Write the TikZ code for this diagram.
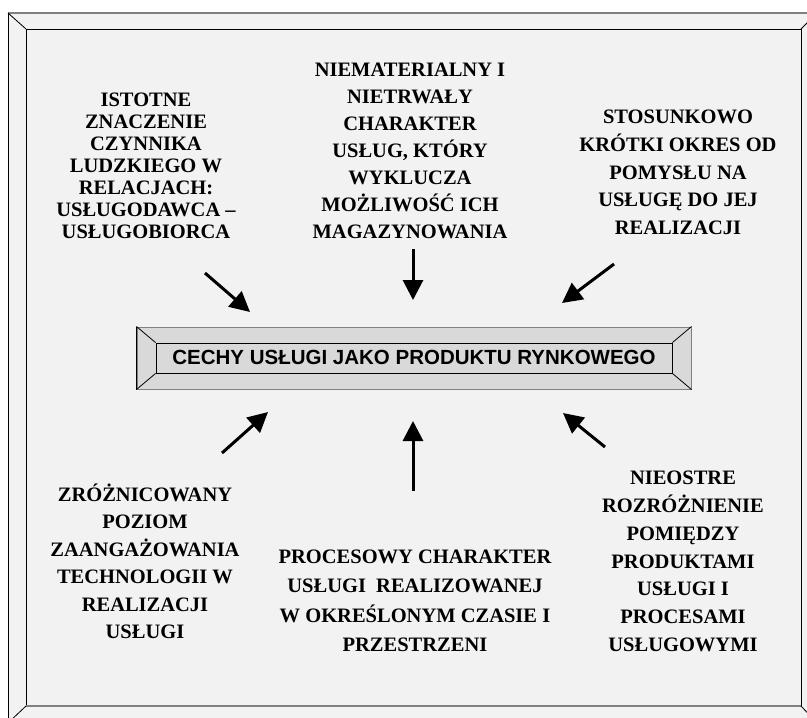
\documentclass[tikz,border=0pt]{standalone}
\usepackage{fontspec}
\setmainfont{Liberation Serif}
\setsansfont{Liberation Sans}
\usetikzlibrary{arrows.meta}
\definecolor{panel}{HTML}{F2F2F2}
\definecolor{plate}{HTML}{D9D9D9}
\definecolor{rim}{HTML}{808080}
\newcommand\cechfont[1]{\fontsize{20.5}{#1}\selectfont\bfseries}
\tikzset{
  feature/.style={align=center, inner sep=0pt, font=\cechfont{#1}},
  push/.style={line width=3pt, -{Triangle[length=20pt,width=20pt]}},
  bevel/.style={line width=0.8pt},
}
\begin{document}
\begin{tikzpicture}[x=1pt,y=-1pt]
\useasboundingbox (0,0) rectangle (807,718);
\clip (0,0) rectangle (807,718);
\fill[white] (0,0) rectangle (807,718);

% bevelled outer frame
\fill[panel] (8,13) rectangle (817,723);
\coordinate (fo1) at (8,13);   \coordinate (fo2) at (817,13);
\coordinate (fo3) at (817,723);\coordinate (fo4) at (8,723);
\coordinate (fi1) at (26,29);  \coordinate (fi2) at (801,29);
\coordinate (fi3) at (801,706);\coordinate (fi4) at (26,706);
\draw[bevel, black] (fo4) -- (fo1);
\draw[line width=1.5pt, rim] (fo1) -- (fo2);
\draw[bevel] (fi1) -- (fi2) -- (fi3);
\draw[bevel] (fi1) -- (fi4);
\draw[line width=1.3pt, rim] (fi4) -- (fi3);
\draw[bevel] (fo1) -- (fi1) (fo2) -- (fi2) (fo3) -- (fi3) (fo4) -- (fi4);

% central plate
\node[fill=plate, draw=rim, line width=1pt, minimum width=554pt, minimum height=62pt, inner sep=0pt] (core) at (414,358) {};
\node[draw=black, bevel, minimum width=516pt, minimum height=30pt, inner sep=0pt] (face) at (414,358) {};
\draw[bevel] (core.north west) -- (face.north west)
             (core.north east) -- (face.north east)
             (core.south east) -- (face.south east)
             (core.south west) -- (face.south west);
\draw[bevel] (core.north west) -- (core.south west);
\node[font=\sffamily\bfseries\fontsize{20.5}{22}\selectfont] (title) at (414,357)
  {CECHY USŁUGI JAKO PRODUKTU RYNKOWEGO};

% surrounding features
\node[feature=22] (f1) at (146,166) {ISTOTNE\\ZNACZENIE\\CZYNNIKA\\LUDZKIEGO W\\RELACJACH:\\USŁUGODAWCA –\\USŁUGOBIORCA};
\node[feature=27] (f2) at (410,151) {NIEMATERIALNY I\\NIETRWAŁY\\CHARAKTER\\USŁUG, KTÓRY\\WYKLUCZA\\MOŻLIWOŚĆ ICH\\MAGAZYNOWANIA};
\node[feature=27.75] (f3) at (678,172.5) {STOSUNKOWO\\KRÓTKI OKRES OD\\POMYSŁU NA\\USŁUGĘ DO JEJ\\REALIZACJI};
\node[feature=27.5] (f4) at (145,561.5) {ZRÓŻNICOWANY\\POZIOM\\ZAANGAŻOWANIA\\TECHNOLOGII W\\REALIZACJI\\USŁUGI};
\node[feature=29.5] (f5) at (415,601) {PROCESOWY CHARAKTER\\USŁUGI~~REALIZOWANEJ\\W OKREŚLONYM CZASIE I\\PRZESTRZENI};
\node[feature=27.8] (f6) at (683,561.5) {NIEOSTRE\\ROZRÓŻNIENIE\\POMIĘDZY\\PRODUKTAMI\\USŁUGI I\\PROCESAMI\\USŁUGOWYMI};

% arrows pointing at the plate
\coordinate (a1s) at (205,273); \coordinate (a1e) at (250,312);
\coordinate (a2s) at (413,249); \coordinate (a2e) at (413,300);
\coordinate (a3s) at (614,264); \coordinate (a3e) at (562,303);
\coordinate (a4s) at (222,453); \coordinate (a4e) at (268,412);
\coordinate (a5s) at (413,491); \coordinate (a5e) at (413,421);
\coordinate (a6s) at (605,447); \coordinate (a6e) at (563,413);
\foreach \i in {1,...,6} \draw[push] (a\i s) -- (a\i e);
\end{tikzpicture}
\end{document}
